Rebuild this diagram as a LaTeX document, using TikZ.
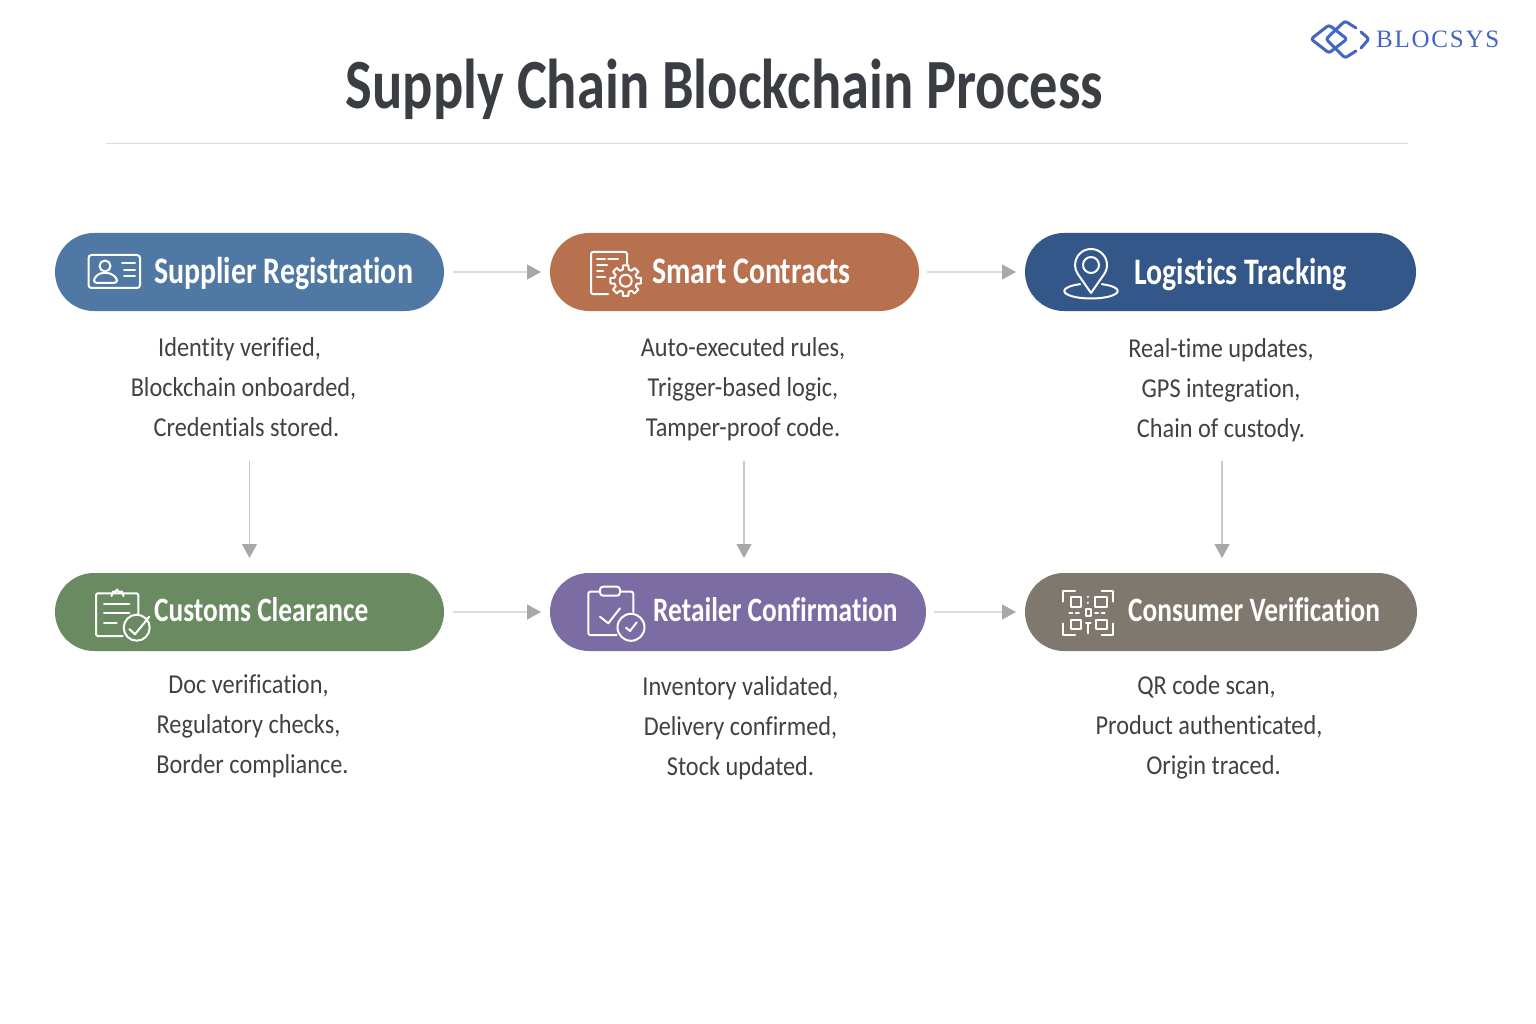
\documentclass[tikz,border=0pt]{standalone}
\usepackage{fontspec}
\setmainfont{Carlito}
\newfontfamily\headfont[FakeStretch=0.8,Ligatures=NoCommon]{Carlito}
\newfontfamily\bodyfont[FakeStretch=0.89,Ligatures=NoCommon]{Carlito}
\newfontfamily\logofont[LetterSpace=7]{Liberation Serif}
\usetikzlibrary{positioning, arrows.meta, shapes.misc}
\definecolor{inkdark}{HTML}{3A3D42}
\definecolor{inkbody}{HTML}{3F4144}
\definecolor{logoblue}{HTML}{4465C4}
\definecolor{arrowline}{HTML}{C9C9C9}
\definecolor{arrowtip}{HTML}{A8A8A8}
\definecolor{supplierblue}{HTML}{4F79A4}
\definecolor{smartorange}{HTML}{B8714F}
\definecolor{logisticsblue}{HTML}{34578A}
\definecolor{customsgreen}{HTML}{6A8A62}
\definecolor{retailerpurple}{HTML}{7B6CA3}
\definecolor{consumergrey}{HTML}{7F786F}
\tikzset{
	pill/.style={
		rounded rectangle,
		minimum height=78pt,
		inner sep=0pt,
		outer sep=0pt,
	},
	pilltext/.style={
		anchor=base west,
		inner sep=0pt,
		text=white,
		font={\headfont\bfseries\fontsize{34.2}{38}\selectfont},
	},
	toptext/.style={
		pilltext,
		font={\headfont\bfseries\fontsize{37.4}{38}\selectfont},
	},
	desc/.style={
		align=center,
		inner sep=0pt,
		text=inkbody,
		font={\bodyfont\fontsize{27.3}{40}\selectfont},
	},
	flow/.style={
		draw=arrowline,
		line width=1.2pt,
		-{Triangle[length=14pt,width=15pt,fill=arrowtip,color=arrowtip]},
	},
	iconline/.style={
		draw=white,
		line width=2pt,
		line cap=round,
		line join=round,
	},
	logoline/.style={
		draw=logoblue,
		line width=3pt,
		line cap=round,
		line join=round,
		rounded corners=2.5pt,
	},
}

\begin{document}
\begin{tikzpicture}[x=1pt,y=-1pt]
	\useasboundingbox (0,0) rectangle (1536,1024);

	% heading
	\node(title)[inner sep=0pt, text=inkdark, font={\headfont\bfseries\fontsize{70.6}{72}\selectfont}] at (724.5,89) {Supply Chain Blockchain Process};
	\coordinate (rulestart) at (106,143);
	\coordinate (ruleend) at (1408,143);
	\draw[draw=black!14, line width=0.9pt] (rulestart) -- (ruleend);

	% logo
	\node(logotext)[anchor=west, inner sep=0pt, text=logoblue, font={\logofont\fontsize{25}{27}\selectfont}] at (1376,39) {BLOCSYS};
	\draw[logoline] (1329,25) -- (1347,39) -- (1329,53) -- (1311,39) -- cycle;
	\draw[logoline] (1356,28) -- (1345,21) -- (1326,39) -- (1345,58) -- (1356,51);
	\draw[logoline] (1361,32) -- (1369,39) -- (1361,48);

	% pills
	\node(supplier)[pill, fill=supplierblue, minimum width=389pt] at (249.5,272) {};
	\node(smart)[pill, fill=smartorange, minimum width=369pt, right=106pt of supplier] {};
	\node(logistics)[pill, fill=logisticsblue, minimum width=391pt, right=106pt of smart] {};
	\node(customs)[pill, fill=customsgreen, minimum width=389pt, below=262pt of supplier] {};
	\node(retailer)[pill, fill=retailerpurple, minimum width=376pt, right=106pt of customs] {};
	\node(consumer)[pill, fill=consumergrey, minimum width=392pt, right=99pt of retailer] {};

	\node(suppliertxt)[toptext] at ([xshift=99pt,yshift=-11.5pt]supplier.west) {Supplier Registration};
	\node(smarttxt)[toptext] at ([xshift=102pt,yshift=-11.5pt]smart.west) {Smart Contracts};
	\node(logisticstxt)[toptext] at ([xshift=109pt,yshift=-12pt]logistics.west) {Logistics Tracking};
	\node(customstxt)[pilltext] at ([xshift=99pt,yshift=-9.5pt]customs.west) {Customs Clearance};
	\node(retailertxt)[pilltext] at ([xshift=103pt,yshift=-9.5pt]retailer.west) {Retailer Confirmation};
	\node(consumertxt)[pilltext] at ([xshift=103pt,yshift=-9.5pt]consumer.west) {Consumer Verification};

	% descriptions
	\node(supplierdesc)[desc, below=26pt of supplier, xshift=-6pt] {Identity verified,\hspace*{8pt}\\Blockchain onboarded,\\\hspace*{6pt}Credentials stored.};
	\node(smartdesc)[desc, below=26pt of smart, xshift=8.5pt] {Auto-executed rules,\\Trigger-based logic,\\Tamper-proof code.};
	\node(logisticsdesc)[desc, below=27pt of logistics, xshift=0.5pt] {Real-time updates,\\GPS integration,\\Chain of custody.};
	\node(customsdesc)[desc, below=24pt of customs, xshift=-1pt] {Doc verification,\\Regulatory checks,\\\hspace*{8pt}Border compliance.};
	\node(retailerdesc)[desc, below=25pt of retailer, xshift=2.5pt] {Inventory validated,\\Delivery confirmed,\\Stock updated.};
	\node(consumerdesc)[desc, below=24pt of consumer, xshift=-12pt] {QR code scan,\hspace*{5pt}\\Product authenticated,\\\hspace*{9pt}Origin traced.};

	% arrows
	\draw[flow, shorten <=9pt, shorten >=9pt] (supplier) -- (smart);
	\draw[flow, shorten <=8pt, shorten >=9pt] (smart) -- (logistics);
	\draw[flow, shorten <=9pt, shorten >=9pt] (customs) -- (retailer);
	\draw[flow, shorten <=8pt, shorten >=9pt] (retailer) -- (consumer);
	\draw[flow, shorten <=24pt, shorten >=15pt] ([xshift=6pt]supplierdesc.south) -- ([xshift=6pt]supplierdesc.south |- customs.north);
	\draw[flow, shorten <=20pt, shorten >=15pt] ([xshift=1pt]smartdesc.south) -- ([xshift=1pt]smartdesc.south |- retailer.north);
	\draw[flow, shorten <=19pt, shorten >=15pt] ([xshift=1pt]logisticsdesc.south) -- ([xshift=1pt]logisticsdesc.south |- consumer.north);

	% icon: id card
	\draw[iconline, rounded corners=3pt] (88.5,255) rectangle (140,288);
	\draw[iconline] (105,266) circle (5.5pt);
	\draw[iconline, rounded corners=3pt] (94,283) -- (94,278) -- (100,273) -- (110,273) -- (117,278) -- (117,283) -- cycle;
	\draw[iconline] (122,263.5) -- (135,263.5) (124,270) -- (135,270) (124,276) -- (135,276);

	% icon: document and gear
	\coordinate (gearcentre) at (625.7,280.7);
	\draw[iconline, rounded corners=2pt] (608,294) -- (591,294) -- (591,252) -- (627,252) -- (627,264);
	\draw[iconline] (597,259) -- (605,259) (608,259) -- (618,259) (597,265) -- (607,265) (597,271) -- (603,271) (597,277) -- (605,277);
	\draw[iconline] (gearcentre) circle (6pt);
	\foreach \a in {0,45,...,315} {
		\draw[iconline] ([shift={(\a-10:15.5pt)}]gearcentre) -- ([shift={(\a+10:15.5pt)}]gearcentre) -- ([shift={(\a+15:11.5pt)}]gearcentre) -- ([shift={(\a+30:11.5pt)}]gearcentre) -- ([shift={(\a+35:15.5pt)}]gearcentre);
	}

	% icon: map pin
	\coordinate (pincentre) at (1091,265);
	\coordinate (pintip) at (1091,293);
	\coordinate (pinbase) at (1091,291);
	\draw[iconline] ([shift={(-34.3:16pt)}]pincentre) arc (-34.3:214.3:16pt) -- (pintip) -- cycle;
	\draw[iconline] (pincentre) circle (8pt);
	\draw[iconline] ([shift={(66:26.7pt and 7.5pt)}]pinbase) arc (66:-246:26.7pt and 7.5pt);

	% icon: customs clipboard
	\coordinate (customscheck) at (136.7,627.7);
	\draw[iconline, rounded corners=1.5pt] (122.7,636) -- (96,636) -- (96,593.3) -- (138.3,593.3) -- (138.3,614);
	\draw[iconline] (111.5,596) -- (113,591.5) -- (115.5,592) -- (117,589.5) -- (119,592) -- (122,591.5) -- (123.5,596);
	\draw[iconline] (104,604.3) -- (129.3,604.3) (104,613.3) -- (129.3,613.3) (104,623.3) -- (116.7,623.3);
	\draw[iconline] (customscheck) circle (13pt);
	\draw[iconline] (129.3,629) -- (135,634.3) -- (149.3,616.7);

	% icon: retailer clipboard
	\coordinate (retailercheck) at (631,627.3);
	\draw[iconline, rounded corners=2pt] (616.7,635) -- (588.3,635) -- (588.3,591.7) -- (600,591.7);
	\draw[iconline, rounded corners=2pt] (620,591.7) -- (633.3,591.7) -- (633.3,612);
	\draw[iconline, rounded corners=3pt] (600,586.7) rectangle (620,595.7);
	\draw[iconline] (600,616.7) -- (608.3,623.3) -- (620,608.3);
	\draw[iconline] (retailercheck) circle (13.5pt);
	\draw[iconline] (626,627.7) -- (630,631) -- (636.7,622.3);

	% icon: qr code
	\draw[iconline] (1063.3,601.7) -- (1063.3,591) -- (1075,591) (1101.7,591) -- (1113.3,591) -- (1113.3,601.7);
	\draw[iconline] (1063.3,623.3) -- (1063.3,635) -- (1075,635) (1101.7,635) -- (1113.3,635) -- (1113.3,623.3);
	\draw[iconline] (1070.7,596.7) rectangle (1080.7,606.7) (1095,596.7) rectangle (1107.3,606.7);
	\draw[iconline] (1070.7,620) rectangle (1080.7,629) (1096,620) rectangle (1106.7,629);
	\draw[iconline, dash pattern=on 3pt off 3.5pt] (1069.3,612.7) -- (1080.7,612.7) (1095,612.7) -- (1107.3,612.7);
	\draw[iconline] (1085.8,609) rectangle (1091,615.5);
	\draw[iconline] (1088.3,596.7) -- (1088.3,597) (1088.3,602.7) -- (1088.3,603);
	\draw[iconline] (1088.3,623.3) -- (1088.3,633.3) (1086,622.5) -- (1090.5,622.5);
\end{tikzpicture}
\end{document}
